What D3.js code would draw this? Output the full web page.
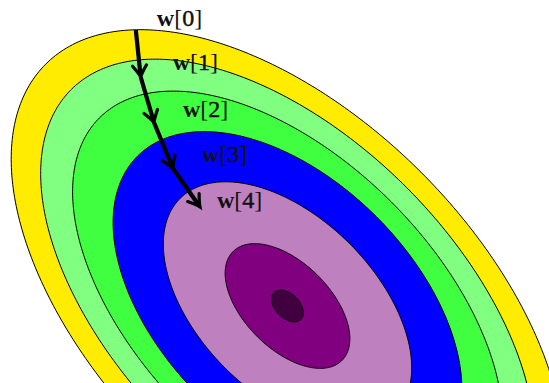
<!DOCTYPE html>
<html>
<head>
<meta charset="utf-8">
<script src="https://cdn.jsdelivr.net/npm/d3@7"></script>
<style>
  html, body { margin: 0; padding: 0; background: #ffffff; }
  svg { display: block; }
</style>
</head>
<body>
<svg id="chart" width="549" height="383"></svg>
<script>
// Level sets of a quadratic loss around its minimum, outermost first.
// Semi-axes are in parameter units along the principal directions.
const ringMajor = [3.42, 3.06, 2.66, 2.12, 1.52, 0.77, 0.19];
const ringMinor = [1.89, 1.68, 1.47, 1.26, 0.88, 0.43, 0.12];
const ringColors = ["#ffec00", "#80ff80", "#40ff40", "#0000ff", "#bf80bf", "#800080", "#400040"];
const minimumW1 = 0;
const minimumW2 = 0;
const principalAngleDeg = -45;

// Gradient-descent iterates w[k] = (w1, w2)
const iterLabels = ["0", "1", "2", "3", "4"];
const iterW1 = [-1.517, -1.468, -1.335, -1.145, -0.875];
const iterW2 = [2.76, 2.29, 1.835, 1.375, 0.99];

const width = 549, height = 383;
const svg = d3.select("#chart");

const x = d3.scaleLinear().domain([-2.875, 2.615]).range([0, width]);
const y = d3.scaleLinear().domain([3.06, -0.77]).range([0, height]);

const phi = principalAngleDeg * Math.PI / 180;
const ellipsePoints = (a, b) => d3.range(0, 360, 1).map(deg => {
  const t = deg * Math.PI / 180;
  const px = minimumW1 + a * Math.cos(t) * Math.cos(phi) - b * Math.sin(t) * Math.sin(phi);
  const py = minimumW2 + a * Math.cos(t) * Math.sin(phi) + b * Math.sin(t) * Math.cos(phi);
  return [x(px), y(py)];
});
const ring = d3.line().curve(d3.curveCardinalClosed);

svg.append("g")
  .selectAll("path")
  .data(ringMajor.map((a, i) => ({ a, b: ringMinor[i], color: ringColors[i] })))
  .join("path")
  .attr("d", d => ring(ellipsePoints(d.a, d.b)))
  .attr("fill", d => d.color)
  .attr("stroke", "#000")
  .attr("stroke-width", 1);

// Descent steps: a thick shaft with an open arrow tip at each new iterate
const pts = iterW1.map((v, i) => [x(v), y(iterW2[i])]);
const steps = svg.append("g");
for (let k = 0; k < pts.length - 1; k++) {
  const [x0, y0] = pts[k];
  const [x1, y1] = pts[k + 1];
  const ang = Math.atan2(y1 - y0, x1 - x0);
  const len = Math.hypot(x1 - x0, y1 - y0);
  const g = steps.append("g")
    .attr("transform", `translate(${x0},${y0}) rotate(${ang * 180 / Math.PI})`);
  g.append("line")
    .attr("x1", 0).attr("y1", 0)
    .attr("x2", len - 1.5).attr("y2", 0)
    .attr("stroke", "#000").attr("stroke-width", 4.2);
  g.append("path")
    .attr("d", `M${len - 11.5},-7 Q${len - 4},-1.7 ${len},0 Q${len - 4},1.7 ${len - 11.5},7`)
    .attr("fill", "none")
    .attr("stroke", "#000")
    .attr("stroke-width", 3.2)
    .attr("stroke-linecap", "round")
    .attr("stroke-linejoin", "miter");
}

// Iterate labels, nudged to the right of each point
const labelNudge = [[21, -4], [32, -7], [29, -6], [29, -6.5], [17, 1]];
const labels = svg.append("g")
  .attr("font-family", "'Liberation Serif', 'DejaVu Serif', serif")
  .attr("font-size", 24)
  .attr("fill", "#111");
iterLabels.forEach((lab, i) => {
  const t = labels.append("text")
    .attr("x", pts[i][0] + labelNudge[i][0])
    .attr("y", pts[i][1] + labelNudge[i][1]);
  t.append("tspan").attr("font-weight", "bold").text("w");
  t.append("tspan").text("[");
  t.append("tspan").attr("stroke", "#111").attr("stroke-width", 0.45).text(lab);
  t.append("tspan").text("]");
});
</script>
</body>
</html>
